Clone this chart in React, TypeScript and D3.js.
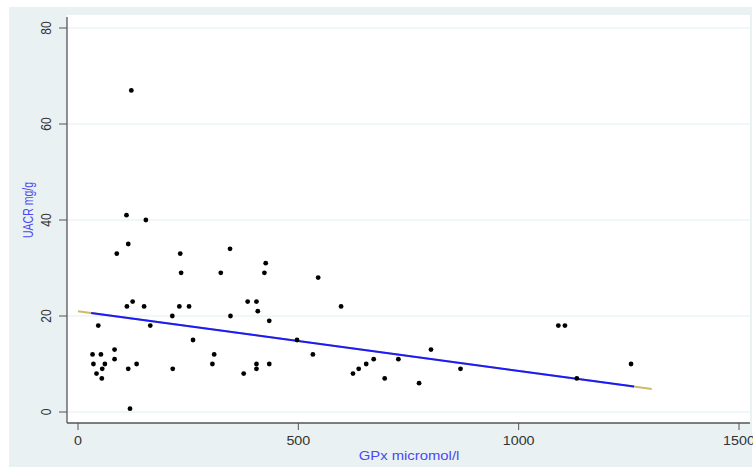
import React, { useEffect, useRef } from 'react';
import * as d3 from 'd3';

// GPx (micromol/l) vs UACR (mg/g)
const gpx = [
  110, 154, 114, 88, 232, 234, 345, 324, 426, 423,
  124, 111, 150, 230, 252, 385, 405, 408, 214, 346,
  434, 46, 164, 261, 497, 33, 52, 83, 83, 35,
  61, 55, 42, 54, 114, 133, 215, 309, 305, 376,
  405, 405, 434, 118, 121, 545, 597, 533, 624, 637,
  654, 671, 696, 727, 774, 801, 868, 1090, 1105, 1255,
  1132,
];
const uacr = [
  41, 40, 35, 33, 33, 29, 34, 29, 31, 29,
  23, 22, 22, 22, 22, 23, 23, 21, 20, 20,
  19, 18, 18, 15, 15, 12, 12, 13, 11, 10,
  10, 9, 8, 7, 9, 10, 9, 12, 10, 8,
  10, 9, 10, 0.7, 67, 28, 22, 12, 8, 9,
  10, 11, 7, 11, 6, 13, 9, 18, 18, 10,
  7,
];

const xTicks = [0, 500, 1000, 1500];
const yTicks = [0, 20, 40, 60, 80];

// fitted line
const fitIntercept = 21.0;
const fitSlope = -0.01244;
const fitRange = [0, 1302];
const dataRange = [30, 1262];

const FONT = '"Liberation Sans", Arial, sans-serif';

export default function App() {
  const ref = useRef<SVGSVGElement>(null);

  useEffect(() => {
    const W = 753;
    const H = 467;
    const svg = d3.select(ref.current);
    svg.selectAll('*').remove();

    svg.append('rect').attr('x', 0).attr('y', 0).attr('width', W).attr('height', H).attr('fill', '#ffffff');
    svg.append('rect').attr('x', 9).attr('y', 7).attr('width', 743).attr('height', 460).attr('fill', '#eaf1f3');

    const plot = { left: 67, top: 15, right: 750, bottom: 423 };
    svg.append('rect')
      .attr('x', plot.left).attr('y', plot.top)
      .attr('width', plot.right - plot.left).attr('height', plot.bottom - plot.top)
      .attr('fill', '#ffffff');

    const x = d3.scaleLinear().domain([0, 1500]).range([78, 739]);
    const y = d3.scaleLinear().domain([0, 80]).range([412, 28]);

    // gridlines
    svg.append('g').selectAll('line').data(yTicks).join('line')
      .attr('x1', plot.left).attr('x2', plot.right)
      .attr('y1', d => y(d)).attr('y2', d => y(d))
      .attr('stroke', '#e4edf1').attr('stroke-width', 1.2);

    // axes
    const axisColor = '#555';
    svg.append('line').attr('x1', plot.left).attr('x2', plot.left).attr('y1', 17).attr('y2', plot.bottom)
      .attr('stroke', axisColor).attr('stroke-width', 1.3);
    svg.append('line').attr('x1', plot.left).attr('x2', plot.right).attr('y1', plot.bottom).attr('y2', plot.bottom)
      .attr('stroke', axisColor).attr('stroke-width', 1.3);

    const yt = svg.append('g').selectAll('g').data(yTicks).join('g');
    yt.append('line').attr('x1', plot.left - 8).attr('x2', plot.left)
      .attr('y1', d => y(d)).attr('y2', d => y(d)).attr('stroke', axisColor);
    yt.append('text')
      .attr('transform', d => `translate(51,${y(d)}) rotate(-90) scale(1,1.25)`)
      .attr('text-anchor', 'middle')
      .attr('font-family', FONT).attr('font-size', 12).attr('fill', '#333')
      .text(d => d);

    const xt = svg.append('g').selectAll('g').data(xTicks).join('g');
    xt.append('line').attr('x1', d => x(d)).attr('x2', d => x(d))
      .attr('y1', plot.bottom).attr('y2', plot.bottom + 7).attr('stroke', axisColor);
    xt.append('text')
      .attr('transform', d => `translate(${x(d)},445) scale(1.1,1)`)
      .attr('text-anchor', 'middle')
      .attr('font-family', FONT).attr('font-size', 13).attr('fill', '#333')
      .text(d => d);

    // axis titles
    svg.append('text')
      .attr('transform', 'translate(409,460) scale(1.1,1)')
      .attr('text-anchor', 'middle')
      .attr('font-family', FONT).attr('font-size', 13.5).attr('fill', '#4a4af2')
      .text('GPx micromol/l');
    svg.append('text')
      .attr('transform', 'translate(33,210) rotate(-90) scale(1,1.33)')
      .attr('text-anchor', 'middle')
      .attr('font-family', FONT).attr('font-size', 10.5).attr('fill', '#4a4af2')
      .text('UACR mg/g');

    // fitted line
    const fit = (v: number) => fitIntercept + fitSlope * v;
    const line = d3.line<number>().x(d => x(d)).y(d => y(fit(d)));
    svg.append('path').attr('d', line(fitRange))
      .attr('fill', 'none').attr('stroke', '#cdbb6a').attr('stroke-width', 2);
    svg.append('path').attr('d', line(dataRange))
      .attr('fill', 'none').attr('stroke', '#1a1aff').attr('stroke-width', 2);

    // points
    svg.append('g').selectAll('circle').data(gpx).join('circle')
      .attr('cx', d => x(d))
      .attr('cy', (_, i) => y(uacr[i]))
      .attr('r', 2.4)
      .attr('fill', '#000');
  }, []);

  return <svg ref={ref} width={753} height={467} style={{ position: 'absolute', left: 0, top: 0 }} />;
}
